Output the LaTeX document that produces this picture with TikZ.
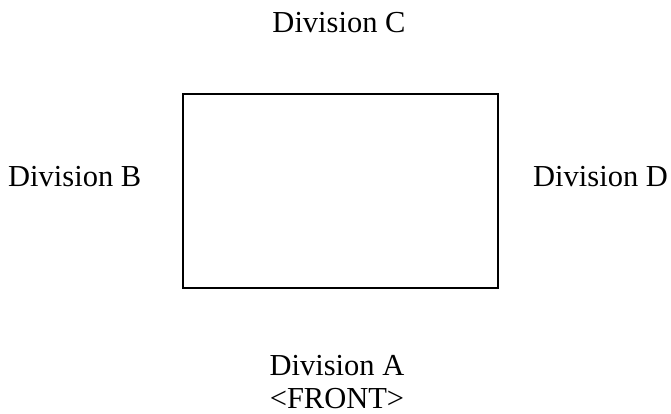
\documentclass[tikz,border=0pt]{standalone}
\usepackage{fontspec}
\setmainfont{Liberation Serif}
\begin{document}
\begin{tikzpicture}[x=1pt,y=-1pt,
  lbl/.style={inner sep=0pt,font=\fontsize{30.5}{34}\selectfont},
  box/.style={draw,line width=1.6pt}]
\useasboundingbox (0,0) rectangle (671,414);
\node[box,minimum width=315pt,minimum height=194pt,inner sep=0pt] (r) at (340.5,191) {};
\node[lbl,anchor=base] (c) at (339,33) {Division C};
\node[lbl,anchor=base west] (b) at (8,186) {Division B};
\node[lbl,anchor=base west] (d) at (533,186) {Division D};
\node[lbl,anchor=base] (a) at (337,375) {Division A};
\node[lbl,anchor=base] (f) at (337,408) {<FRONT>};
\end{tikzpicture}
\end{document}
